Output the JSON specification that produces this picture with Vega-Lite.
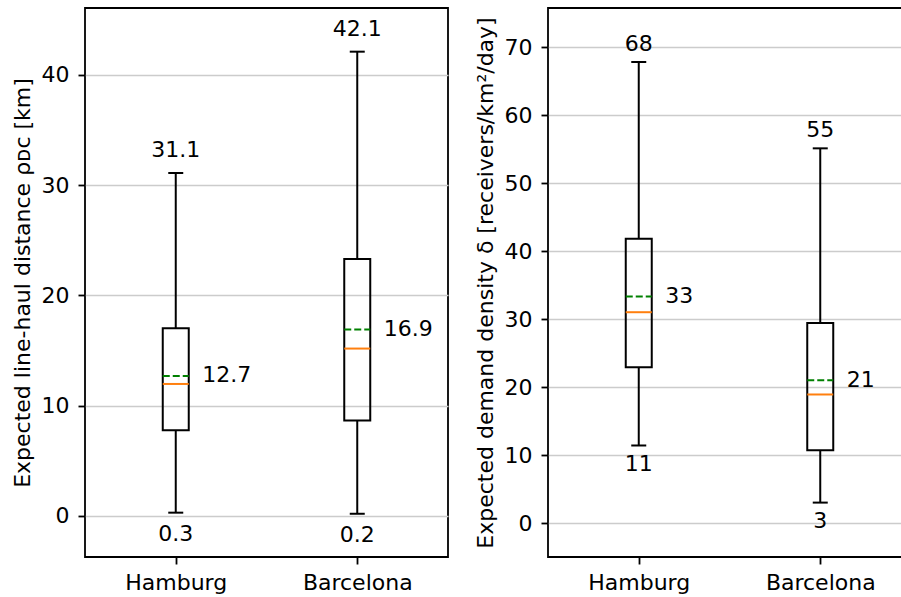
{
  "$schema": "https://vega.github.io/schema/vega-lite/v6.json",
  "padding": {"left": 10, "top": 7, "right": 0, "bottom": 0},
  "bounds": "flush",
  "spacing": 100,
  "datasets": {
    "distance": [
      {"city": "Hamburg", "lo": 0.3, "q1": 7.77, "med": 11.97, "mean": 12.7, "q3": 17.02, "hi": 31.1},
      {"city": "Barcelona", "lo": 0.2, "q1": 8.65, "med": 15.18, "mean": 16.9, "q3": 23.3, "hi": 42.1}
    ],
    "density": [
      {"city": "Hamburg", "lo": 11.4, "q1": 22.9, "med": 31.0, "mean": 33.3, "q3": 41.8, "hi": 67.8},
      {"city": "Barcelona", "lo": 3.0, "q1": 10.7, "med": 18.9, "mean": 21.0, "q3": 29.4, "hi": 55.1}
    ]
  },
  "config": {
    "view": {"stroke": "black", "strokeWidth": 1.8},
    "font": "DejaVu Sans",
    "axis": {
      "labelFont": "DejaVu Sans", "labelFontSize": 22, "labelColor": "black",
      "titleFont": "DejaVu Sans", "titleFontSize": 22, "titleFontWeight": "normal", "titleColor": "black",
      "tickColor": "black", "tickWidth": 1.8, "tickSize": 7, "domain": false,
      "gridColor": "#cccccc", "gridWidth": 1.5
    },
    "axisX": {"grid": false, "labelAngle": 0, "labelBaseline": "alphabetic", "labelPadding": 25},
    "axisY": {"grid": true, "labelPadding": 9, "titleX": -56, "titleBaseline": "alphabetic"},
    "text": {"font": "DejaVu Sans", "fontSize": 22, "color": "black"}
  },
  "hconcat": [
    {
      "width": 363,
      "height": 549,
      "data": {"name": "distance"},
      "encoding": {
        "x": {"field": "city", "type": "nominal", "sort": null, "title": null,
              "scale": {"type": "point", "padding": 0.5, "domain": ["Hamburg", "Barcelona"]}}
      },
      "layer": [
        {"mark": {"type": "rule", "color": "black", "strokeWidth": 2},
         "encoding": {"y": {"field": "lo", "type": "quantitative", "scale": {"domain": [-3.72, 46.06], "nice": false, "zero": false},
                            "axis": {"title": "Expected line-haul distance ρᴅᴄ [km]", "values": [0, 10, 20, 30, 40]}},
                      "y2": {"field": "q1"}}},
        {"mark": {"type": "rule", "color": "black", "strokeWidth": 2},
         "encoding": {"y": {"field": "q3", "type": "quantitative", "axis": {"title": "Expected line-haul distance ρᴅᴄ [km]"}}, "y2": {"field": "hi"}}},
        {"mark": {"type": "bar", "filled": false, "color": "black", "strokeWidth": 2, "width": 26, "opacity": 1},
         "encoding": {"y": {"field": "q1", "type": "quantitative", "axis": {"title": "Expected line-haul distance ρᴅᴄ [km]"}}, "y2": {"field": "q3"}}},
        {"mark": {"type": "tick", "color": "black", "size": 15, "thickness": 2, "opacity": 1},
         "encoding": {"y": {"field": "lo", "type": "quantitative", "axis": {"title": "Expected line-haul distance ρᴅᴄ [km]"}}}},
        {"mark": {"type": "tick", "color": "black", "size": 15, "thickness": 2, "opacity": 1},
         "encoding": {"y": {"field": "hi", "type": "quantitative", "axis": {"title": "Expected line-haul distance ρᴅᴄ [km]"}}}},
        {"mark": {"type": "tick", "color": "#ff7f0e", "size": 26, "thickness": 2, "opacity": 1},
         "encoding": {"y": {"field": "med", "type": "quantitative", "axis": {"title": "Expected line-haul distance ρᴅᴄ [km]"}}}},
        {"mark": {"type": "rule", "color": "#008000", "strokeWidth": 2, "strokeDash": [7, 3], "xOffset": -13, "x2Offset": 13},
         "encoding": {"x2": {"field": "city"}, "y": {"field": "mean", "type": "quantitative", "axis": {"title": "Expected line-haul distance ρᴅᴄ [km]"}}}},
        {"mark": {"type": "text", "baseline": "alphabetic", "align": "center", "dy": -15.5},
         "encoding": {"y": {"field": "hi", "type": "quantitative", "axis": {"title": "Expected line-haul distance ρᴅᴄ [km]"}},
                      "text": {"field": "hi", "type": "quantitative", "format": ".1f"}}},
        {"mark": {"type": "text", "baseline": "alphabetic", "align": "center", "dy": 28},
         "encoding": {"y": {"field": "lo", "type": "quantitative", "axis": {"title": "Expected line-haul distance ρᴅᴄ [km]"}},
                      "text": {"field": "lo", "type": "quantitative", "format": ".1f"}}},
        {"mark": {"type": "text", "baseline": "alphabetic", "align": "left", "dx": 26.5, "dy": 6.5},
         "encoding": {"y": {"field": "mean", "type": "quantitative", "axis": {"title": "Expected line-haul distance ρᴅᴄ [km]"}},
                      "text": {"field": "mean", "type": "quantitative", "format": ".1f"}}}
      ]
    },
    {
      "width": 363,
      "height": 549,
      "data": {"name": "density"},
      "encoding": {
        "x": {"field": "city", "type": "nominal", "sort": null, "title": null,
              "scale": {"type": "point", "padding": 0.5, "domain": ["Hamburg", "Barcelona"]}}
      },
      "layer": [
        {"mark": {"type": "rule", "color": "black", "strokeWidth": 2},
         "encoding": {"y": {"field": "lo", "type": "quantitative", "scale": {"domain": [-5.0, 75.74], "nice": false, "zero": false},
                            "axis": {"title": "Expected demand density δ [receivers/km²/day]", "values": [0, 10, 20, 30, 40, 50, 60, 70]}},
                      "y2": {"field": "q1"}}},
        {"mark": {"type": "rule", "color": "black", "strokeWidth": 2},
         "encoding": {"y": {"field": "q3", "type": "quantitative", "axis": {"title": "Expected demand density δ [receivers/km²/day]"}}, "y2": {"field": "hi"}}},
        {"mark": {"type": "bar", "filled": false, "color": "black", "strokeWidth": 2, "width": 26, "opacity": 1},
         "encoding": {"y": {"field": "q1", "type": "quantitative", "axis": {"title": "Expected demand density δ [receivers/km²/day]"}}, "y2": {"field": "q3"}}},
        {"mark": {"type": "tick", "color": "black", "size": 15, "thickness": 2, "opacity": 1},
         "encoding": {"y": {"field": "lo", "type": "quantitative", "axis": {"title": "Expected demand density δ [receivers/km²/day]"}}}},
        {"mark": {"type": "tick", "color": "black", "size": 15, "thickness": 2, "opacity": 1},
         "encoding": {"y": {"field": "hi", "type": "quantitative", "axis": {"title": "Expected demand density δ [receivers/km²/day]"}}}},
        {"mark": {"type": "tick", "color": "#ff7f0e", "size": 26, "thickness": 2, "opacity": 1},
         "encoding": {"y": {"field": "med", "type": "quantitative", "axis": {"title": "Expected demand density δ [receivers/km²/day]"}}}},
        {"mark": {"type": "rule", "color": "#008000", "strokeWidth": 2, "strokeDash": [7, 3], "xOffset": -13, "x2Offset": 13},
         "encoding": {"x2": {"field": "city"}, "y": {"field": "mean", "type": "quantitative", "axis": {"title": "Expected demand density δ [receivers/km²/day]"}}}},
        {"mark": {"type": "text", "baseline": "alphabetic", "align": "center", "dy": -11},
         "encoding": {"y": {"field": "hi", "type": "quantitative", "axis": {"title": "Expected demand density δ [receivers/km²/day]"}},
                      "text": {"field": "hi", "type": "quantitative", "format": ".0f"}}},
        {"mark": {"type": "text", "baseline": "alphabetic", "align": "center", "dy": 25.5},
         "encoding": {"y": {"field": "lo", "type": "quantitative", "axis": {"title": "Expected demand density δ [receivers/km²/day]"}},
                      "text": {"field": "lo", "type": "quantitative", "format": ".0f"}}},
        {"mark": {"type": "text", "baseline": "alphabetic", "align": "left", "dx": 26.5, "dy": 6.5},
         "encoding": {"y": {"field": "mean", "type": "quantitative", "axis": {"title": "Expected demand density δ [receivers/km²/day]"}},
                      "text": {"field": "mean", "type": "quantitative", "format": ".0f"}}}
      ]
    }
  ]
}
